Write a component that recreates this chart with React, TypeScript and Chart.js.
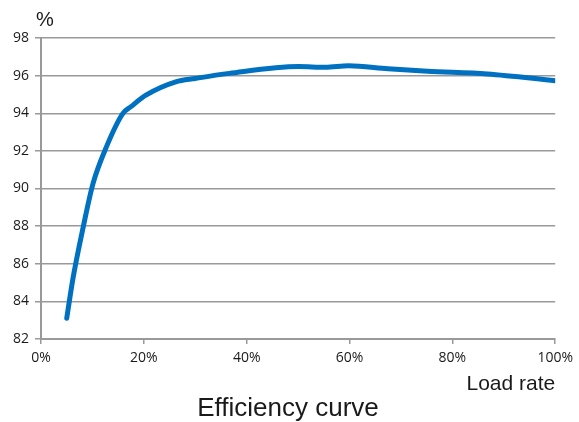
import React, { useEffect, useRef } from "react";
import { Chart, registerables } from "chart.js";

Chart.register(...registerables);

const loadRates = [5, 6.25, 8.2, 10.1, 12.7, 15.9, 17.5, 20.4, 26.2, 30, 36.6, 50.1, 55.3, 59.8, 67.5, 75.2, 86.8, 100];
const efficiency = [83.1, 85.27, 87.94, 90.25, 92.2, 93.98, 94.35, 94.96, 95.67, 95.85, 96.12, 96.48, 96.44, 96.52, 96.36, 96.23, 96.09, 95.73];
const yTicks = [82, 84, 86, 88, 90, 92, 94, 96, 98];
const xTicks = [0, 20, 40, 60, 80, 100];
const yUnit = "%";
const xTitle = "Load rate";
const chartTitle = "Efficiency curve";

const labelsPlugin = {
  id: "labelsPlugin",
  afterDraw(chart: any) {
    const ctx = chart.ctx;
    const area = chart.chartArea;
    ctx.save();
    ctx.fillStyle = "#1a1a1a";
    ctx.textBaseline = "alphabetic";
    ctx.font = '20px "Liberation Sans", Arial, sans-serif';
    ctx.textAlign = "left";
    ctx.fillText(yUnit, 36, 26);
    ctx.font = '21px "Liberation Sans", Arial, sans-serif';
    ctx.textAlign = "right";
    ctx.fillText(xTitle, area.right, 390);
    ctx.font = '26px "Liberation Sans", Arial, sans-serif';
    ctx.textAlign = "center";
    ctx.fillText(chartTitle, 288, 416);
    ctx.restore();
  },
};

export default function App() {
  const ref = useRef<HTMLCanvasElement>(null);
  useEffect(() => {
    document.body.style.margin = "0";
    const data = loadRates.map((x, i) => ({ x, y: efficiency[i] }));
    const chart = new Chart(ref.current as HTMLCanvasElement, {
      type: "line",
      data: {
        datasets: [
          {
            data,
            borderColor: "#0070C0",
            borderWidth: 5,
            pointRadius: 0,
            cubicInterpolationMode: "monotone",
            borderCapStyle: "round",
            borderJoinStyle: "round",
            fill: false,
          } as any,
        ],
      },
      options: {
        animation: false,
        responsive: false,
        devicePixelRatio: 1,
        layout: { padding: { top: 38, right: 21, left: 0, bottom: 0 } },
        plugins: { legend: { display: false }, tooltip: { enabled: false }, title: { display: false } },
        scales: {
          x: {
            type: "linear",
            min: 0,
            max: 100,
            afterBuildTicks(axis: any) {
              axis.ticks = xTicks.map((v) => ({ value: v }));
            },
            afterFit(axis: any) {
              axis.height = 83;
            },
            grid: {
              display: true,
              drawOnChartArea: false,
              drawTicks: true,
              tickLength: 5,
              color: "#999999",
              lineWidth: 1.5,
            },
            border: { display: true, color: "#999999", width: 2 },
            ticks: {
              padding: 6,
              color: "#1a1a1a",
              font: { family: '"Open Sans", "Noto Sans", sans-serif', size: 14 },
              callback: (v: any) => v + "%",
              maxRotation: 0,
            },
          },
          y: {
            type: "linear",
            min: 82,
            max: 98,
            afterBuildTicks(axis: any) {
              axis.ticks = yTicks.map((v) => ({ value: v }));
            },
            afterFit(axis: any) {
              axis.width = 41;
            },
            grid: {
              display: true,
              drawTicks: true,
              tickLength: 6,
              color: "#999999",
              lineWidth: 1.5,
            },
            border: { display: true, color: "#999999", width: 2 },
            ticks: {
              padding: 6,
              color: "#1a1a1a",
              font: { family: '"Open Sans", "Noto Sans", sans-serif', size: 14 },
            },
          },
        },
      },
      plugins: [labelsPlugin],
    });
    return () => chart.destroy();
  }, []);
  return (
    <div style={{ position: "absolute", left: 0, top: 0, width: 579, height: 422, background: "#fff" }}>
      <canvas ref={ref} width={579} height={422} style={{ width: 579, height: 422 }} />
    </div>
  );
}
